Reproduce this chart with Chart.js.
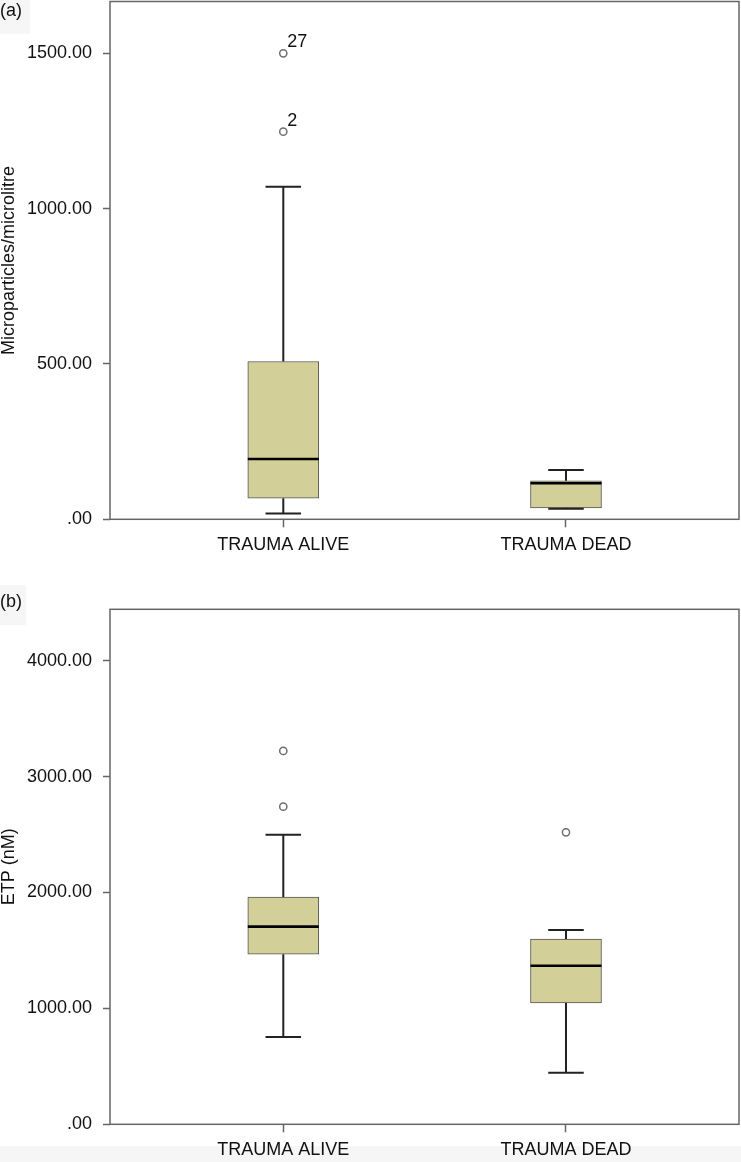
<!DOCTYPE html>
<html>
<head>
<meta charset="utf-8">
<script src="https://cdn.jsdelivr.net/npm/chart.js@4.4.1/dist/chart.umd.min.js"></script>
<style>
  html, body { margin: 0; padding: 0; background: #ffffff; }
  body { width: 741px; height: 1162px; position: relative; overflow: hidden; font-family: 'Liberation Sans', Arial, sans-serif; }
  .wrap { position: absolute; left: 0; }
  .panel-label { position: absolute; left: 0; font-size: 18px; color: #111; line-height: 20px; }
  .shade { position: absolute; background: #f6f6f6; }
</style>
</head>
<body>
<div class="shade" style="left:0;top:1146px;width:741px;height:16px;"></div>
<div class="shade" style="left:0;top:0;width:30px;height:34px;"></div>
<div class="shade" style="left:0;top:585px;width:26px;height:40px;"></div>
<div class="wrap" style="top:0;"><canvas id="chartA" width="741" height="560"></canvas></div>
<div class="wrap" style="top:560px;"><canvas id="chartB" width="741" height="602"></canvas></div>
<div class="panel-label" style="top:0px;">(a)</div>
<div class="panel-label" style="top:591px;">(b)</div>
<script>
// ---------- data ----------
const categories = ['TRAUMA ALIVE', 'TRAUMA DEAD'];

// Panel (a): Microparticles/microlitre
const mpWhiskerLow  = [19, 34];
const mpQ1          = [68, 37];
const mpMedian      = [194, 116];
const mpQ3          = [508, 124];
const mpWhiskerHigh = [1071, 159];
const mpOutlierCat  = [0, 0];
const mpOutlierVal  = [1500, 1248];
const mpOutlierId   = ['27', '2'];
const mpTicks       = [0, 500, 1000, 1500];

// Panel (b): ETP (nM)
const etpWhiskerLow  = [753, 445];
const etpQ1          = [1467, 1047];
const etpMedian      = [1705, 1368];
const etpQ3          = [1961, 1599];
const etpWhiskerHigh = [2499, 1676];
const etpOutlierCat  = [0, 0, 1];
const etpOutlierVal  = [3221, 2740, 2519];
const etpOutlierId   = ['', '', ''];
const etpTicks       = [0, 1000, 2000, 3000, 4000];

// ---------- drawing ----------
const FONT = "'Liberation Sans', Arial, sans-serif";
const BOX_FILL = '#d3cf98';
const FRAME = '#666666';

function fmt(v) { return v === 0 ? '.00' : Number(v).toFixed(2); }

const framePlugin = {
  id: 'frame',
  beforeDatasetsDraw(chart) {
    const a = chart.chartArea, ctx = chart.ctx;
    ctx.save();
    ctx.strokeStyle = FRAME;
    ctx.lineWidth = 1.5;
    ctx.strokeRect(a.left, a.top, a.right - a.left, a.bottom - a.top);
    ctx.restore();
  }
};

const boxPlugin = {
  id: 'boxparts',
  afterDatasetsDraw(chart, args, opts) {
    const ctx = chart.ctx, xs = chart.scales.x, ys = chart.scales.y;
    const meta = chart.getDatasetMeta(0);
    ctx.save();
    opts.median.forEach((m, i) => {
      const el = meta.data[i];
      const cx = xs.getPixelForValue(i);
      const w = el.width;
      const cap = w / 2;
      ctx.strokeStyle = '#222';
      ctx.lineWidth = 2;
      ctx.beginPath();
      ctx.moveTo(cx, ys.getPixelForValue(opts.q3[i]));
      ctx.lineTo(cx, ys.getPixelForValue(opts.high[i]));
      ctx.moveTo(cx, ys.getPixelForValue(opts.q1[i]));
      ctx.lineTo(cx, ys.getPixelForValue(opts.low[i]));
      ctx.stroke();
      ctx.beginPath();
      const yh = ys.getPixelForValue(opts.high[i]);
      const yl = ys.getPixelForValue(opts.low[i]);
      ctx.moveTo(cx - cap / 2, yh); ctx.lineTo(cx + cap / 2, yh);
      ctx.moveTo(cx - cap / 2, yl); ctx.lineTo(cx + cap / 2, yl);
      ctx.stroke();
      ctx.strokeStyle = '#000';
      ctx.lineWidth = 2.6;
      const ym = ys.getPixelForValue(m);
      ctx.beginPath();
      ctx.moveTo(cx - w / 2, ym); ctx.lineTo(cx + w / 2, ym);
      ctx.stroke();
    });
    ctx.fillStyle = '#111';
    ctx.font = '18px ' + FONT;
    ctx.textAlign = 'left';
    ctx.textBaseline = 'alphabetic';
    opts.ids.forEach((id, k) => {
      if (!id) return;
      const px = xs.getPixelForValue(opts.outCat[k]);
      const py = ys.getPixelForValue(opts.outVal[k]);
      ctx.fillText(id, px + 4, py - 6);
    });
    ctx.restore();
  }
};

function makeChart(id, d) {
  const ctx = document.getElementById(id);
  return new Chart(ctx, {
    type: 'bar',
    data: {
      datasets: [
        {
          type: 'bar',
          data: categories.map((c, i) => ({ x: i, y: [d.q1[i], d.q3[i]] })),
          backgroundColor: BOX_FILL,
          borderColor: '#555',
          borderWidth: 1,
          borderSkipped: false,
          barThickness: 71,
          order: 2
        },
        {
          type: 'scatter',
          data: d.outCat.map((c, k) => ({ x: c, y: d.outVal[k] })),
          pointStyle: 'circle',
          pointRadius: 3.6,
          pointBackgroundColor: '#ffffff',
          pointBorderColor: '#6e6e6e',
          pointBorderWidth: 1.5,
          showLine: false,
          clip: false,
          order: 1
        }
      ]
    },
    options: {
      responsive: false,
      devicePixelRatio: 1,
      animation: false,
      events: [],
      layout: { autoPadding: false, padding: { top: d.padTop, right: 2, left: 0, bottom: 0 } },
      plugins: {
        legend: { display: false },
        tooltip: { enabled: false },
        boxparts: {
          q1: d.q1, q3: d.q3, median: d.median, low: d.low, high: d.high,
          outCat: d.outCat, outVal: d.outVal, ids: d.ids
        }
      },
      scales: {
        x: {
          type: 'linear',
          offset: false,
          min: -0.613,
          max: 1.612,
          afterBuildTicks: s => { s.ticks = categories.map((c, i) => ({ value: i })); },
          afterFit: s => { s.height = d.xHeight; s.paddingLeft = 0; s.paddingRight = 0; },
          ticks: {
            callback: v => categories[v],
            font: { family: FONT, size: 18 },
            color: '#111',
            padding: 7,
            maxRotation: 0,
            autoSkip: false
          },
          grid: { display: true, offset: false, drawOnChartArea: false, drawTicks: true, tickLength: 8, tickColor: FRAME, tickWidth: 1.5 },
          border: { display: false }
        },
        y: {
          min: 0,
          max: d.yMax,
          afterBuildTicks: s => { s.ticks = d.ticks.map(v => ({ value: v })); },
          afterFit: s => { s.width = 110; s.paddingTop = 0; s.paddingBottom = 0; },
          ticks: {
            callback: v => fmt(v),
            font: { family: FONT, size: 18 },
            color: '#111',
            padding: 11
          },
          grid: { display: true, drawOnChartArea: false, drawTicks: true, tickLength: 7, tickColor: FRAME, tickWidth: 1.5 },
          border: { display: false },
          title: {
            display: true,
            text: d.title,
            font: { family: FONT, size: 18, lineHeight: 1 },
            color: '#111',
            padding: 0
          }
        }
      }
    },
    plugins: [framePlugin, boxPlugin]
  });
}

makeChart('chartA', {
  q1: mpQ1, q3: mpQ3, median: mpMedian, low: mpWhiskerLow, high: mpWhiskerHigh,
  outCat: mpOutlierCat, outVal: mpOutlierVal, ids: mpOutlierId,
  ticks: mpTicks, yMax: 1667, title: 'Microparticles/microlitre',
  padTop: 1.5, xHeight: 40.7
});

makeChart('chartB', {
  q1: etpQ1, q3: etpQ3, median: etpMedian, low: etpWhiskerLow, high: etpWhiskerHigh,
  outCat: etpOutlierCat, outVal: etpOutlierVal, ids: etpOutlierId,
  ticks: etpTicks, yMax: 4443, title: 'ETP (nM)',
  padTop: 49.3, xHeight: 37.7
});
</script>
</body>
</html>
